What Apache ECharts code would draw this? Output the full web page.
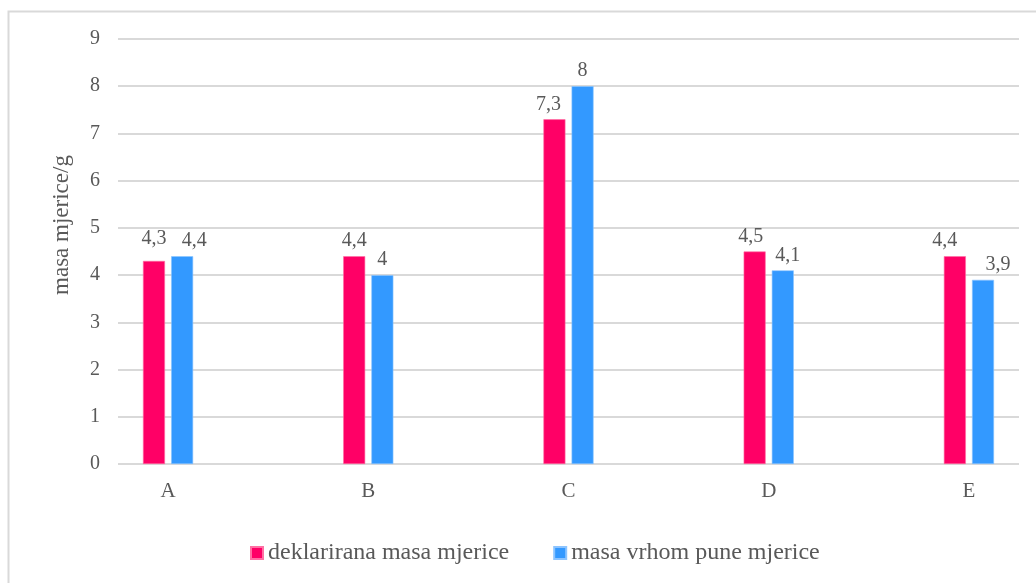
<!DOCTYPE html>
<html>
<head>
<meta charset="utf-8">
<script src="https://cdn.jsdelivr.net/npm/echarts@6/dist/echarts.min.js"></script>
<style>
html,body{margin:0;padding:0;background:#fff;}
#chart{width:1036px;height:583px;}
</style>
</head>
<body>
<div id="chart"></div>
<script>
var categories = ['A', 'B', 'C', 'D', 'E'];
var seriesNames = ['deklarirana masa mjerice', 'masa vrhom pune mjerice'];
var declared = [4.3, 4.4, 7.3, 4.5, 4.4];
var fullTop = [4.4, 4.0, 8.0, 4.1, 3.9];
var yTicks = [0, 1, 2, 3, 4, 5, 6, 7, 8, 9];
var yAxisTitle = 'masa mjerice/g';

// label nudges (style only, px) to mimic the reference's collision-avoided labels
var declaredLabelNudge = [[0, -7], [0, 0], [-6, 0], [-4, 0], [-10, 0]];
var fullTopLabelNudge = [[12, 0], [0, 0], [0, 0], [5, 0], [15, 0]];

var font = '"Liberation Serif", "Times New Roman", serif';
var textColor = '#595959';
var gridColor = '#d9d9d9';

var chart = echarts.init(document.getElementById('chart'), null, {renderer: 'canvas'});

function fmt(p) {
  return String(p.value[1]).replace('.', ',');
}

var catIndex = categories.map(function (c, i) { return i; });

function toItems(values, nudges) {
  return values.map(function (v, i) {
    return {value: [catIndex[i], v], label: {offset: nudges[i]}};
  });
}

var labelStyle = {
  show: true, position: 'top', distance: 5, formatter: fmt,
  fontFamily: font, fontSize: 20, color: textColor
};

chart.setOption({
  animation: false,
  backgroundColor: '#ffffff',
  graphic: [
    {
      type: 'rect',
      shape: {x: 8.5, y: 11.5, width: 1100, height: 700},
      style: {fill: 'none', stroke: gridColor, lineWidth: 2},
      silent: true
    },
    {
      type: 'text',
      x: 62, y: 225,
      rotation: Math.PI / 2,
      style: {
        text: yAxisTitle,
        font: '23px ' + font,
        fill: textColor,
        textAlign: 'center',
        textVerticalAlign: 'middle'
      },
      silent: true
    }
  ],
  grid: {left: 118, right: 17, top: 39, bottom: 119},
  legend: {
    bottom: 13,
    left: 245,
    itemWidth: 12,
    itemHeight: 12,
    itemGap: 44,
    icon: 'rect',
    textStyle: {fontFamily: font, fontSize: 24, color: textColor},
    data: seriesNames
  },
  xAxis: {
    type: 'value',
    min: -0.25,
    max: categories.length - 0.75,
    axisLine: {show: false},
    axisTick: {show: false},
    splitLine: {show: false},
    axisLabel: {
      customValues: catIndex,
      formatter: function (v) { return categories[Math.round(v)]; },
      fontFamily: font, fontSize: 21, color: textColor, margin: 17
    }
  },
  yAxis: {
    type: 'value',
    min: yTicks[0],
    max: yTicks[yTicks.length - 1],
    interval: 1,
    axisLine: {show: false},
    axisTick: {show: false},
    splitLine: {lineStyle: {color: gridColor, width: 2}},
    axisLabel: {fontFamily: font, fontSize: 20, color: textColor, margin: 18}
  },
  series: [
    {
      name: seriesNames[0],
      type: 'bar',
      data: toItems(declared, declaredLabelNudge),
      barWidth: 22,
      barGap: '28%',
      itemStyle: {color: '#FF0066', borderColor: '#ff6fa3', borderWidth: 0.6},
      label: labelStyle
    },
    {
      name: seriesNames[1],
      type: 'bar',
      data: toItems(fullTop, fullTopLabelNudge),
      barWidth: 22,
      barGap: '28%',
      itemStyle: {color: '#3399FF', borderColor: '#8cc4ff', borderWidth: 0.6},
      label: labelStyle
    }
  ]
});
</script>
</body>
</html>
